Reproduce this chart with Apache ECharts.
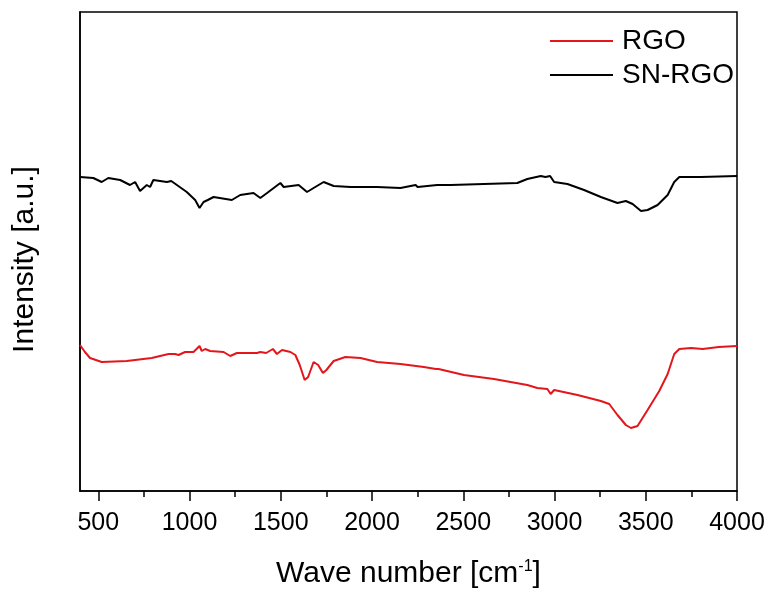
<!DOCTYPE html>
<html>
<head>
<meta charset="utf-8">
<script src="https://cdn.jsdelivr.net/npm/echarts@6/dist/echarts.min.js"></script>
<style>html,body{margin:0;padding:0;background:#fff;}#c{width:771px;height:592px;}</style>
</head>
<body>
<div id="c"></div>
<script>
var xTicks = [500, 1000, 1500, 2000, 2500, 3000, 3500, 4000];
var xMinorTicks = [750, 1250, 1750, 2250, 2750, 3250, 3750];

var rgoX = [400, 427, 455, 519, 656, 793, 885, 895, 921, 940, 976, 1022, 1055, 1067, 1086, 1113, 1187, 1223, 1260, 1370, 1388, 1420, 1457, 1479, 1507, 1553, 1580, 1604, 1631, 1650, 1680, 1705, 1731, 1750, 1790, 1854, 1937, 2028, 2156, 2284, 2350, 2357, 2365, 2504, 2668, 2851, 2906, 2961, 2979, 2998, 3126, 3254, 3300, 3345, 3391, 3419, 3455, 3510, 3574, 3620, 3656, 3684, 3748, 3812, 3900, 4000];
var rgoY = [146, 139, 133, 129, 130, 133, 137, 135, 137, 136, 139, 139, 145, 140, 142, 140, 139, 135, 138, 138, 139, 138, 142, 137, 141, 139, 136, 126, 111, 114, 129, 126, 118, 121, 130, 134, 133, 129, 127, 124, 122, 124, 122, 116, 112, 106, 103, 102, 97, 101, 96, 90, 87, 76, 66, 63, 65, 81, 100, 117, 137, 142, 143, 142, 144, 145];

var snX = [400, 473, 519, 555, 620, 674, 702, 729, 766, 784, 802, 876, 900, 985, 1031, 1055, 1077, 1100, 1132, 1232, 1278, 1351, 1388, 1425, 1498, 1516, 1598, 1644, 1680, 1735, 1790, 1882, 2028, 2156, 2239, 2250, 2357, 2431, 2613, 2796, 2851, 2925, 2950, 2976, 2998, 3071, 3162, 3254, 3345, 3391, 3428, 3474, 3510, 3565, 3620, 3656, 3684, 3803, 4000];
var snY = [314, 313, 309, 313, 311, 306, 309, 300, 306, 304, 311, 309, 310, 299, 291, 283, 289, 291, 294, 291, 296, 298, 293, 298, 308, 304, 306, 299, 303, 309, 305, 304, 304, 303, 306, 304, 306, 306, 307, 308, 312, 315, 314, 315, 309, 307, 301, 294, 288, 290, 287, 280, 281, 286, 296, 309, 314, 314, 315];

function pairs(xs, ys) { return xs.map(function (x, i) { return [x, ys[i]]; }); }

var chart = echarts.init(document.getElementById('c'), null, {renderer: 'canvas'});
var font = 'Liberation Sans, Arial, sans-serif';
chart.setOption({
  animation: false,
  backgroundColor: '#fff',
  grid: {left: 80, right: 34, top: 12, bottom: 101, show: true, borderColor: '#000', borderWidth: 1.5,
    containLabel: false, outerBoundsMode: 'none'},
  legend: {
    orient: 'vertical', left: 545, top: 22, itemWidth: 63, itemHeight: 2, itemGap: 6,
    icon: 'rect',
    textStyle: {fontSize: 28, lineHeight: 28, color: '#000', fontFamily: font, padding: [0, 0, 0, 4]},
    data: ['RGO', 'SN-RGO']
  },
  xAxis: [{
    type: 'value', min: 400, max: 4000,
    axisLine: {show: true, lineStyle: {color: '#000', width: 1.5}},
    axisTick: {show: true, inside: false, length: 10, lineStyle: {color: '#000', width: 1.5},
      customValues: xTicks},
    axisLabel: {fontSize: 25, color: '#000', fontFamily: font, margin: 20, customValues: xTicks,
      formatter: function (v) { return String(v); }},
    splitLine: {show: false},
    name: 'Wave number [cm{sup|-1}]',
    nameLocation: 'middle', nameGap: 68,
    nameTextStyle: {fontSize: 30, color: '#000', fontFamily: font,
      rich: {sup: {fontSize: 16, verticalAlign: 'top', color: '#000', fontFamily: font, padding: [0, 0, 14, 0]}}}
  }, {
    type: 'value', min: 400, max: 4000, position: 'bottom', offset: 0,
    axisLine: {show: false},
    axisTick: {show: true, inside: false, length: 6, lineStyle: {color: '#000', width: 1.5},
      customValues: xMinorTicks},
    axisLabel: {show: false}, splitLine: {show: false}
  }],
  yAxis: {
    type: 'value', min: 0, max: 479,
    axisLine: {show: true, lineStyle: {color: '#000', width: 1.5}},
    axisTick: {show: false}, axisLabel: {show: false}, splitLine: {show: false},
    name: 'Intensity [a.u.]', nameLocation: 'middle', nameGap: 40,
    nameTextStyle: {fontSize: 30, color: '#000', fontFamily: font, padding: [0, 16, 0, 0]}
  },
  series: [
    {name: 'RGO', type: 'line', data: pairs(rgoX, rgoY), showSymbol: false, symbol: 'none',
      lineStyle: {color: '#e3161b', width: 2}, itemStyle: {color: '#e3161b'}, smooth: false},
    {name: 'SN-RGO', type: 'line', data: pairs(snX, snY), showSymbol: false, symbol: 'none',
      lineStyle: {color: '#000', width: 2}, itemStyle: {color: '#000'}, smooth: false}
  ]
});
</script>
</body>
</html>
